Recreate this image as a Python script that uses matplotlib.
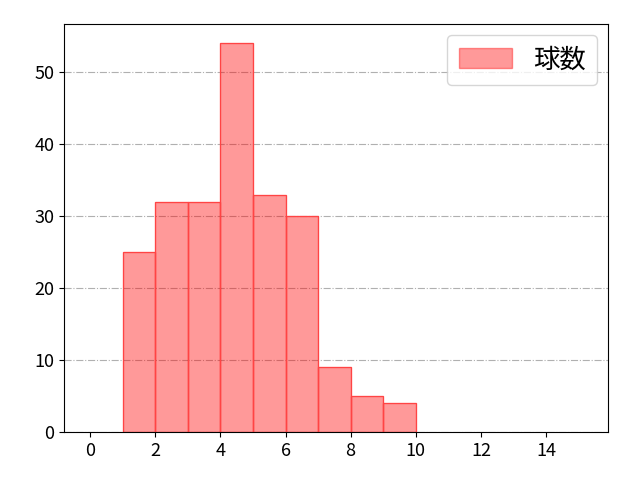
import matplotlib.pyplot as plt
import numpy as np

plt.rcParams['font.family'] = ['Noto Sans CJK JP', 'DejaVu Sans']

# histogram bins (left edges) and counts
bin_edges = [1, 2, 3, 4, 5, 6, 7, 8, 9, 10]
counts = [25, 32, 32, 54, 33, 30, 9, 5, 4]

fig = plt.figure(figsize=(6.4, 4.8), dpi=100)
ax = fig.add_axes([0.1, 0.1, 0.85, 0.85])

ax.hist(bin_edges[:-1], bins=bin_edges, weights=counts,
        color='red', alpha=0.4, edgecolor='red', linewidth=1, label='球数')
# redraw edges at full strength
ax.hist(bin_edges[:-1], bins=bin_edges, weights=counts,
        histtype='bar', facecolor='none', edgecolor='#ff4444', linewidth=0.8)

ax.set_xlim(-0.8, 15.9)
ax.set_ylim(0, 56.7)
ax.set_xticks(np.arange(0, 15, 2))
ax.set_yticks(np.arange(0, 51, 10))
ax.tick_params(labelsize=13)
ax.grid(axis='y', linestyle='-.', color='#b0b0b0', linewidth=0.8)
ax.set_axisbelow(True)
ax.legend(loc='upper right', fontsize=19, handlelength=2.0, handleheight=0.76,
          borderaxespad=0.4, borderpad=0.45)

fig.savefig('out.png', dpi=100)
